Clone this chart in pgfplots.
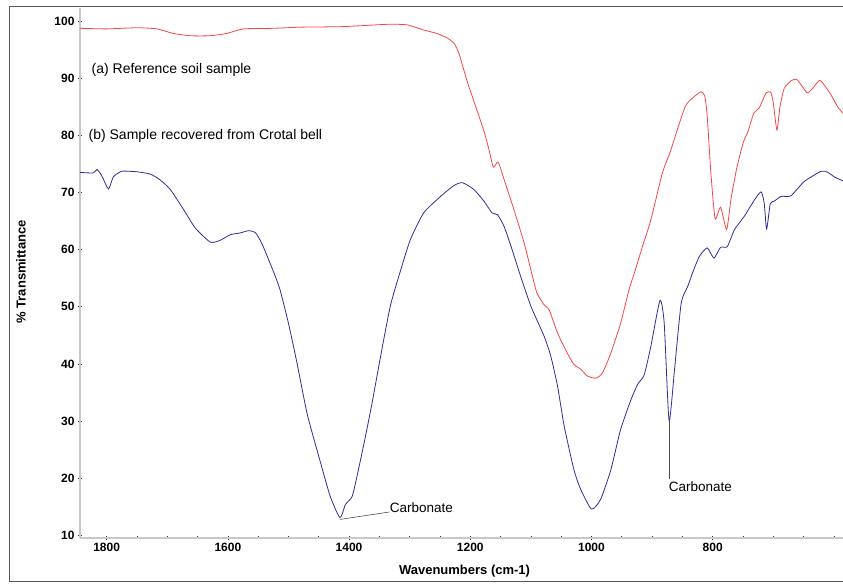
\documentclass[border=0pt]{standalone}
\usepackage{pgfplots}
\pgfplotsset{compat=1.18}
\usepackage{pgfplotstable}
\usepackage{fontspec}
\setmainfont{Liberation Sans}
\definecolor{redline}{RGB}{245,70,70}
\definecolor{blueline}{RGB}{45,45,155}
\definecolor{axgray}{RGB}{200,200,200}
\pgfplotstableread{
wn T
1844 73.5
1822 73.4
1816 74.0
1808 72.9
1797 70.6
1789 72.7
1775 73.7
1750 73.6
1728 73.2
1712 72.2
1695 70.5
1673 67.0
1654 63.8
1629 61.3
1613 61.6
1596 62.6
1580 62.9
1566 63.3
1555 63.0
1544 61.1
1525 56.2
1514 53.0
1500 47.1
1486 40.2
1469 31.2
1447 22.7
1431 16.8
1415 13.1
1406 15.4
1395 16.8
1387 20.3
1373 27.3
1362 33.2
1348 41.3
1332 50.1
1316 56.0
1299 61.7
1277 66.4
1249 69.3
1227 71.2
1213 71.7
1194 70.5
1177 68.4
1164 66.4
1155 66.1
1144 64.0
1131 60.0
1119 56.0
1100 50.1
1078 44.8
1067 41.3
1056 36.1
1045 29.1
1029 21.5
1018 18.1
1000 14.6
985 16.3
968 21.5
952 28.5
935 33.7
924 36.4
913 38.1
902 43.1
887 51.1
880 47.1
872 30.1
863 39.0
852 50.6
841 53.6
833 56.0
822 58.8
809 60.3
798 58.5
787 60.4
776 60.5
764 63.5
748 65.8
731 68.7
720 70.1
715 68.1
711 63.6
705 68.0
698 68.5
687 69.3
671 69.4
649 71.9
621 73.7
610 73.5
599 72.7
583 71.9
}\bluedata
\pgfplotstableread{
wn T
1844 98.7
1800 98.6
1750 98.8
1717 98.6
1690 97.8
1662 97.4
1629 97.4
1602 97.8
1574 98.6
1525 98.7
1480 98.9
1409 99.0
1337 99.4
1304 99.3
1277 98.4
1255 97.8
1238 97.0
1227 96.1
1219 94.4
1205 89.4
1191 85.0
1177 80.6
1169 77.4
1162 74.4
1154 75.3
1144 72.2
1128 67.0
1111 61.1
1099 56.0
1090 52.4
1078 50.3
1070 49.5
1056 45.4
1040 41.9
1029 39.9
1018 39.1
1007 37.9
993 37.5
982 38.4
968 41.9
952 47.1
938 53.0
929 56.0
916 60.5
902 65.2
883 73.4
869 77.4
855 82.1
844 85.3
830 86.8
819 87.6
813 86.8
809 83.3
803 73.4
796 65.4
787 67.4
777 63.5
770 68.7
761 73.9
750 78.6
742 80.6
732 83.9
723 84.8
712 87.4
704 87.5
700 85.6
694 80.9
689 85.0
682 88.2
671 89.5
662 89.8
654 88.8
644 87.4
635 88.2
624 89.6
616 88.8
605 87.1
594 85.0
583 83.6
}\reddata
\begin{document}
\begin{tikzpicture}[x=1pt,y=1pt]
\begin{axis}[
  scale only axis, width=763pt, height=529.4pt,
  x dir=reverse,
  xmin=585, xmax=1844, ymin=9.6, ymax=102.2,
  axis lines=left,
  axis line style={-, draw=axgray, line width=2.2pt},
  xtick={800,1000,...,1800},
  minor xtick={600,650,...,1850},
  ytick={10,20,...,100},
  minor ytick={10,12,...,102},
  tick style={black!80, line width=0.6pt},
  major tick length=4pt, minor tick length=2.5pt,
  tick align=center,
  /pgf/number format/assume math mode=true,
  /pgf/number format/1000 sep={},
  ticklabel style={font=\bfseries\fontsize{12}{14}\selectfont},
  xlabel={Wavenumbers (cm-1)},
  ylabel={\% Transmittance},
  label style={font=\bfseries\fontsize{13}{15}\selectfont},
  xlabel style={at={(axis description cs:0.504,0)}, anchor=center, yshift=-33.3pt},
  ylabel style={at={(axis description cs:-0.0773,0.502)}, anchor=center},
  clip=false,
]
\addplot[redline, line width=0.8pt, smooth, tension=0.35] table[x=wn,y=T] {\reddata};
\addplot[blueline, line width=0.8pt, smooth, tension=0.35] table[x=wn,y=T] {\bluedata};
\node[anchor=west, font=\fontsize{14}{16}\selectfont, inner sep=0pt] at (axis cs:1825,91.4) {(a) Reference soil sample};
\node[anchor=west, font=\fontsize{14}{16}\selectfont, inner sep=0pt] at (axis cs:1830,79.8) {(b) Sample recovered from Crotal bell};
\draw[black!70, line width=0.6pt] (axis cs:1415,12.8) -- (axis cs:1333,14.1);
\node[anchor=west, font=\fontsize{13.5}{15}\selectfont, inner sep=0pt] at (axis cs:1333,14.9) {Carbonate};
\draw[black!70, line width=0.6pt] (axis cs:872,30.1) -- (axis cs:872,19.8);
\node[anchor=north west, font=\fontsize{13.5}{15}\selectfont, inner sep=0pt] at (axis cs:872.5,19.5) {Carbonate};
\coordinate (BL) at (axis cs:1844,9.6);
\end{axis}
\pgfresetboundingbox
\begin{scope}[shift={(BL)}]
\useasboundingbox (-80,-46.3) rectangle (763,537.7);
\draw[black!65, line width=0.8pt] (-71,-43.3) rectangle (800,531.7);
\end{scope}
\end{tikzpicture}
\end{document}
